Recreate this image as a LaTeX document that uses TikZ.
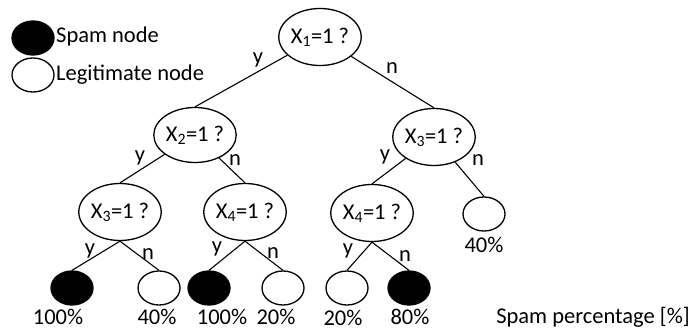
\documentclass[tikz,border=0pt]{standalone}
\usepackage{fontspec}
\setmainfont{Carlito}
\usetikzlibrary{shapes.geometric}
\begin{document}
\begin{tikzpicture}[x=1pt,y=-1pt,
  every node/.style={font=\fontsize{22.5}{25}\selectfont},
  test/.style={ellipse,draw,line width=1.3pt,inner sep=0pt,minimum width=75pt,minimum height=57pt},
  leaf/.style={ellipse,draw,line width=1.3pt,inner sep=0pt,minimum width=42pt,minimum height=34pt},
  spam/.style={leaf,fill=black},
  legit/.style={leaf,fill=white},
  branch/.style={line width=1.1pt},
  lbl/.style={inner sep=0pt},
  pct/.style={inner sep=0pt,anchor=base}]
\useasboundingbox (0,0) rectangle (696,331);

% legend
\node[spam]  (lspam)  at (33,38) {};
\node[lbl,anchor=west] (tspam) at (56,37) {Spam node};
\node[legit] (llegit) at (33,75) {};
\node[lbl,anchor=west] (tlegit) at (56,75) {Legitimate node};

% decision nodes
\node[test] (r)  at (320,37)  {X\textsubscript{1}=1 ?};
\node[test,minimum height=55pt] (a)  at (195,135) {X\textsubscript{2}=1 ?};
\node[test] (b)  at (434,137) {X\textsubscript{3}=1 ?};
\node[test] (aa) at (120,212) {X\textsubscript{3}=1 ?};
\node[test] (ab) at (245,212) {X\textsubscript{4}=1 ?};
\node[test] (ba) at (372,213) {X\textsubscript{4}=1 ?};

% leaves
\node[legit] (bb)  at (484,214) {};
\node[spam]  (aaa) at (72,288)  {};
\node[legit] (aab) at (159,288) {};
\node[spam]  (aba) at (209,288) {};
\node[legit] (abb) at (283,288) {};
\node[legit] (baa) at (347,288) {};
\node[spam]  (bab) at (409,288) {};

% branches
\draw[branch] (r) -- (a.north);
\draw[branch] (r) -- (b.north);
\draw[branch] (a) -- (aa.north);
\draw[branch] (a) -- (ab.north);
\draw[branch] (b) -- (ba.north);
\draw[branch] (b) -- (bb.north);
\draw[branch] (aa.south) -- (aaa.north);
\draw[branch] (aa.south) -- (aab.north);
\draw[branch] (ab.south) -- (aba.north);
\draw[branch] (ab.south) -- (abb.north);
\draw[branch] (ba.south) -- (baa.north);
\draw[branch] (ba.south) -- (bab.north);

% branch labels
\node[lbl] (y1) at (258,60)  {y};
\node[lbl] (n1) at (392,68)  {n};
\node[lbl] (y2) at (140,158) {y};
\node[lbl] (n2) at (235,160) {n};
\node[lbl] (y3) at (385,157) {y};
\node[lbl] (n3) at (478,160) {n};
\node[lbl] (y4) at (90,251)  {y};
\node[lbl] (n4) at (148,254) {n};
\node[lbl] (y5) at (217,249) {y};
\node[lbl] (n5) at (273,253) {n};
\node[lbl] (y6) at (348,251) {y};
\node[lbl] (n6) at (405,256) {n};

% spam percentages
\node[lbl] (p0) at (484,245) {40\%};
\node[pct] (p1) at (58,324)  {100\%};
\node[pct] (p2) at (157,324) {40\%};
\node[pct] (p3) at (222,324) {100\%};
\node[pct] (p4) at (276,324) {20\%};
\node[pct] (p5) at (343,325) {20\%};
\node[pct] (p6) at (410,324) {80\%};
\node[pct] (cap) at (593,323) {Spam percentage [\%]};
\end{tikzpicture}
\end{document}
